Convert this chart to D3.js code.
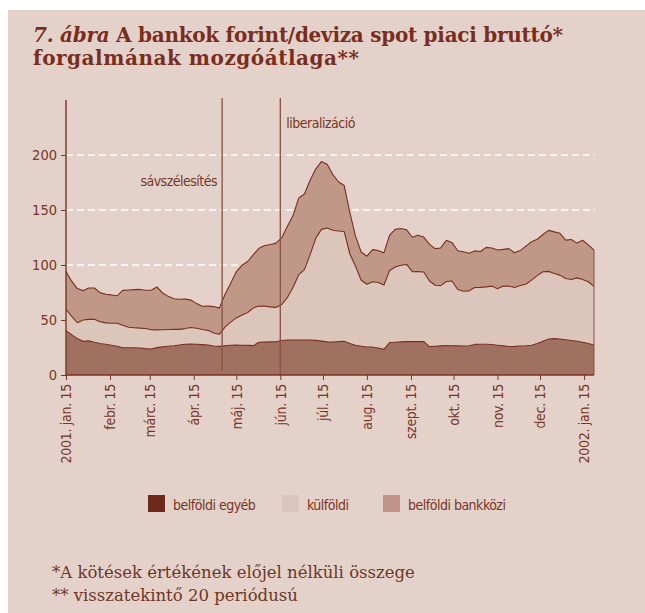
<!DOCTYPE html>
<html>
<head>
<meta charset="utf-8">
<script src="https://cdn.jsdelivr.net/npm/d3@7"></script>
<style>
  html, body { margin: 0; padding: 0; background: #ffffff; }
  svg { display: block; }
</style>
</head>
<body>
<svg id="chart" width="645" height="613"></svg>
<script>
// 20-period moving average of gross forint/FX spot turnover (billion HUF)
const dates = ["2001-01-15","2001-01-19","2001-01-23","2001-01-27","2001-01-31","2001-02-04","2001-02-08","2001-02-12","2001-02-16","2001-02-20","2001-02-24","2001-02-28","2001-03-04","2001-03-08","2001-03-12","2001-03-16","2001-03-20","2001-03-24","2001-03-28","2001-04-01","2001-04-05","2001-04-09","2001-04-13","2001-04-17","2001-04-21","2001-04-25","2001-04-29","2001-05-03","2001-05-07","2001-05-11","2001-05-15","2001-05-19","2001-05-23","2001-05-27","2001-05-31","2001-06-04","2001-06-08","2001-06-12","2001-06-16","2001-06-20","2001-06-24","2001-06-28","2001-07-02","2001-07-06","2001-07-10","2001-07-14","2001-07-18","2001-07-22","2001-07-26","2001-07-30","2001-08-03","2001-08-07","2001-08-11","2001-08-15","2001-08-19","2001-08-23","2001-08-27","2001-08-31","2001-09-04","2001-09-08","2001-09-12","2001-09-16","2001-09-20","2001-09-24","2001-09-28","2001-10-02","2001-10-06","2001-10-10","2001-10-14","2001-10-18","2001-10-22","2001-10-26","2001-10-30","2001-11-03","2001-11-07","2001-11-11","2001-11-15","2001-11-19","2001-11-23","2001-11-27","2001-12-01","2001-12-05","2001-12-09","2001-12-13","2001-12-17","2001-12-21","2001-12-25","2001-12-29","2002-01-02","2002-01-06","2002-01-10","2002-01-14","2002-01-18","2002-01-22"];

const belfoldiEgyeb = [40.3,36.6,33.1,30.6,31.0,29.7,28.6,27.9,27.1,26.2,24.8,24.8,24.8,24.5,24.0,23.7,24.9,25.6,26.1,26.6,27.3,27.9,28.1,27.9,27.6,27.3,26.3,26.0,26.5,27.0,27.3,27.1,26.9,26.7,29.8,29.9,30.1,30.2,31.4,31.8,31.8,31.8,31.8,31.8,31.5,30.8,30.1,29.9,30.5,30.7,28.6,27.0,26.2,25.5,25.3,24.6,23.3,29.5,29.8,30.1,30.3,30.3,30.3,30.5,25.8,26.2,26.5,26.7,26.6,26.5,26.4,26.6,27.8,27.9,27.9,27.7,27.1,26.5,25.9,26.0,26.3,26.6,27.1,28.6,30.6,32.7,33.1,32.6,32.1,31.4,30.7,29.8,28.7,27.3];

const kulfoldi = [19.7,16.7,14.4,19.4,19.6,20.9,19.9,19.5,19.9,20.8,20.4,18.6,18.2,18.1,18.3,17.5,16.1,15.6,15.3,14.9,14.2,14.3,15.1,14.6,13.8,13.3,11.9,11.0,17.0,21.1,24.6,27.5,29.9,34.3,32.9,32.7,31.8,31.3,32.7,38.7,48.0,59.4,64.0,77.6,92.9,101.6,103.6,101.7,100.4,99.7,81.4,71.8,59.9,57.0,59.5,59.5,58.5,65.5,68.4,69.6,70.2,63.6,63.7,63.2,59.9,55.4,54.7,58.3,58.8,51.2,49.8,49.9,51.7,51.8,52.2,53.1,51.4,54.3,55.0,53.5,55.0,55.9,59.2,61.7,63.3,61.5,59.1,58.2,55.6,55.4,57.6,57.0,56.1,53.2];

const belfoldiBankkozi = [34.0,32.0,31.1,26.7,28.5,28.5,26.4,26.0,25.8,25.0,31.7,33.9,34.6,35.2,34.8,35.8,39.0,33.4,30.1,27.8,27.4,26.8,24.9,22.4,21.1,22.0,24.0,23.8,29.7,35.4,42.0,45.1,46.4,48.5,52.5,55.2,56.7,58.4,60.7,64.7,65.1,69.8,68.8,67.6,63.0,61.6,57.8,50.6,44.8,41.8,37.7,27.2,25.7,25.5,29.2,29.1,29.2,32.2,34.2,33.5,31.5,31.3,33.0,31.7,33.3,33.3,34.3,37.5,34.9,35.3,35.9,34.1,33.3,32.6,35.9,34.6,35.2,33.4,34.0,31.7,31.8,34.7,34.8,33.1,33.8,37.3,37.9,38.0,34.9,36.4,31.6,35.7,33.5,33.1];

const seriesKeys = ["belfoldiEgyeb", "kulfoldi", "belfoldiBankkozi"];
const seriesNames = ["belföldi egyéb", "külföldi", "belföldi bankközi"];
const areaColors = ["#a07060", "#dcc6bc", "#c09888"];
const legendColors = ["#6c2a1b", "#dcc6bc", "#c09587"];

const tickDates = ["2001-01-15","2001-02-15","2001-03-15","2001-04-15","2001-05-15","2001-06-15","2001-07-15","2001-08-15","2001-09-15","2001-10-15","2001-11-15","2001-12-15","2002-01-15"];
const tickLabels = ["2001. jan. 15","febr. 15","márc. 15","ápr. 15","máj. 15","jún. 15","júl. 15","aug. 15","szept. 15","okt. 15","nov. 15","dec. 15","2002. jan. 15"];
const yTicks = [0, 50, 100, 150, 200];
const gridValues = [100, 150, 200];

const events = [
  { date: "2001-05-05", label: "sávszélesítés" },
  { date: "2001-06-15", label: "liberalizáció" }
];

const titleParts = [
  { text: "7. ábra", italic: true },
  { text: " A bankok forint/deviza spot piaci bruttó*", italic: false }
];
const titleLine2 = "forgalmának mozgóátlaga**";
const footnotes = ["*A kötések értékének előjel nélküli összege", "** visszatekintő 20 periódusú"];

const parse = d3.utcParse("%Y-%m-%d");
const rows = dates.map((d, i) => ({
  date: parse(d),
  belfoldiEgyeb: belfoldiEgyeb[i],
  kulfoldi: kulfoldi[i],
  belfoldiBankkozi: belfoldiBankkozi[i]
}));

const svg = d3.select("#chart");
const ink = "#7a3424";
const narrow = "'DejaVu Sans Condensed','Liberation Sans Narrow',sans-serif";
const serif = "'DejaVu Serif','Liberation Serif',serif";

// panel background
svg.append("rect").attr("x", 8).attr("y", 10).attr("width", 637).attr("height", 603).attr("fill", "#e4d2ca");

// title (two lines)
const t1 = svg.append("text").attr("x", 33).attr("y", 42)
  .attr("font-family", serif).attr("font-weight", "bold").attr("font-size", 20).attr("fill", "#7b2d1d")
  .attr("textLength", 530).attr("lengthAdjust", "spacing");
titleParts.forEach(p => t1.append("tspan").attr("font-style", p.italic ? "italic" : "normal").text(p.text));
svg.append("text").attr("x", 33).attr("y", 65)
  .attr("font-family", serif).attr("font-weight", "bold").attr("font-size", 20).attr("fill", "#7b2d1d")
  .attr("textLength", 326).attr("lengthAdjust", "spacing")
  .text(titleLine2);

// scales
const x = d3.scaleUtc()
  .domain([parse(dates[0]), parse(dates[dates.length - 1])])
  .range([66, 594]);
const y = d3.scaleLinear().domain([0, 250]).range([375, 100]);

// dashed gridlines
svg.append("g").selectAll("line").data(gridValues).join("line")
  .attr("x1", 66).attr("x2", 595)
  .attr("y1", d => y(d)).attr("y2", d => y(d))
  .attr("stroke", "#ffffff").attr("stroke-width", 1.3).attr("stroke-dasharray", "7,4");

// stacked areas
const stack = d3.stack().keys(seriesKeys);
const layers = stack(rows);
const area = d3.area().x(d => x(d.data.date)).y0(d => y(d[0])).y1(d => y(d[1]));
const topLine = d3.line().x(d => x(d.data.date)).y(d => y(d[1]));

svg.append("g").selectAll("path").data(layers).join("path")
  .attr("d", area).attr("fill", (d, i) => areaColors[i]);
svg.append("g").selectAll("path").data(layers).join("path")
  .attr("d", topLine).attr("fill", "none")
  .attr("stroke", "#7a2e1e").attr("stroke-width", 1.1).attr("stroke-linejoin", "round");

// closing edge at the last observation
const lastTop = layers[layers.length - 1][rows.length - 1][1];
svg.append("line")
  .attr("x1", x(rows[rows.length - 1].date)).attr("x2", x(rows[rows.length - 1].date))
  .attr("y1", y(lastTop)).attr("y2", y(0))
  .attr("stroke", "#8a5040").attr("stroke-width", 1);

// event markers
events.forEach((e, i) => {
  const ex = x(parse(e.date));
  svg.append("line").attr("x1", ex).attr("x2", ex)
    .attr("y1", 98).attr("y2", i === 0 ? 371 : 375)
    .attr("stroke", "#8c5646").attr("stroke-width", 1.4);
});
svg.append("text").attr("x", x(parse(events[0].date)) - 5).attr("y", 186)
  .attr("text-anchor", "end").attr("font-family", narrow).attr("font-size", 14)
  .attr("letter-spacing", -0.5).attr("fill", ink)
  .text(events[0].label);
svg.append("text").attr("x", x(parse(events[1].date)) + 6).attr("y", 128)
  .attr("text-anchor", "start").attr("font-family", narrow).attr("font-size", 14)
  .attr("letter-spacing", -0.5).attr("fill", ink)
  .text(events[1].label);

// y axis
const yAxis = svg.append("g").attr("transform", "translate(66,0)")
  .call(d3.axisLeft(y).tickValues(yTicks).tickSize(5).tickPadding(4).tickFormat(d3.format("d")));
yAxis.select(".domain").attr("stroke", "#7a3424").attr("stroke-width", 1.4).attr("d", "M0,100V375");
yAxis.selectAll(".tick line").attr("stroke", "#7a3424");
yAxis.selectAll(".tick text").attr("font-family", narrow).attr("font-size", 14.5).attr("fill", ink);

// x axis
const xAxis = svg.append("g").attr("transform", "translate(0,375)")
  .call(d3.axisBottom(x).tickValues(tickDates.map(parse)).tickSize(5)
    .tickFormat((d, i) => tickLabels[i]));
xAxis.select(".domain").attr("stroke", "#7a3424").attr("stroke-width", 1.4).attr("d", "M66,0H594");
xAxis.selectAll(".tick line").attr("stroke", "#7a3424");
xAxis.selectAll(".tick text")
  .attr("font-family", narrow).attr("font-size", 14).attr("letter-spacing", -0.3).attr("fill", ink)
  .attr("text-anchor", "end").attr("transform", "rotate(-90)")
  .attr("x", -9).attr("y", 0).attr("dy", "0.35em");

// legend
const legendX = [148, 282, 383];
const lg = svg.append("g");
seriesNames.forEach((name, i) => {
  lg.append("rect").attr("x", legendX[i]).attr("y", 495).attr("width", 17).attr("height", 17)
    .attr("fill", legendColors[i]);
  lg.append("text").attr("x", legendX[i] + 25).attr("y", 510)
    .attr("font-family", narrow).attr("font-size", 14).attr("letter-spacing", -0.5)
    .attr("fill", ink).text(name);
});

// footnotes
footnotes.forEach((f, i) => {
  svg.append("text").attr("x", 52).attr("y", 578 + i * 23)
    .attr("font-family", serif).attr("font-size", 16.5).attr("fill", "#6e3526").text(f);
});
</script>
</body>
</html>
